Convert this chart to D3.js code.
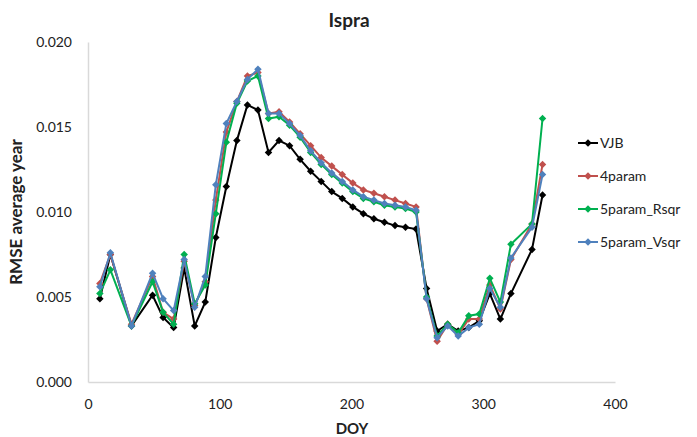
<!DOCTYPE html>
<html>
<head>
<meta charset="utf-8">
<script src="https://cdnjs.cloudflare.com/ajax/libs/d3/7.8.5/d3.min.js"></script>
<style>
  body { margin: 0; background: #fff; }
  svg text { font-family: Lato, "Open Sans", sans-serif; fill: #222; }
</style>
</head>
<body>
<div id="chart"></div>
<script>
// day of year of each composite
var doy = [9, 17, 33, 49, 57, 65, 73, 81, 89, 97, 105, 113, 121, 129, 137, 145, 153, 161, 169, 177,
           185, 193, 201, 209, 217, 225, 233, 241, 249, 257, 265, 273, 281, 289, 297, 305, 313, 321, 337, 345];

var vjb = [0.0049, 0.0075, 0.0033, 0.0051, 0.0038, 0.0032, 0.0067, 0.0033, 0.0047, 0.0085,
           0.0115, 0.0142, 0.0163, 0.0160, 0.0135, 0.0142, 0.0139, 0.0131, 0.0124, 0.0118,
           0.0112, 0.0108, 0.0103, 0.0099, 0.0096, 0.0094, 0.0092, 0.0091, 0.0090, 0.0055,
           0.0030, 0.0034, 0.0030, 0.0032, 0.0036, 0.0052, 0.0037, 0.0052, 0.0078, 0.0110];

var param4 = [0.0058, 0.0075, 0.0034, 0.0062, 0.0041, 0.0037, 0.0071, 0.0045, 0.0059, 0.0107,
              0.0147, 0.0165, 0.0180, 0.0182, 0.0158, 0.0159, 0.0153, 0.0146, 0.0139, 0.0132,
              0.0127, 0.0122, 0.0117, 0.0113, 0.0111, 0.0109, 0.0107, 0.0105, 0.0103, 0.0049,
              0.0024, 0.0034, 0.0028, 0.0037, 0.0037, 0.0057, 0.0043, 0.0072, 0.0093, 0.0128];

var param5Rsqr = [0.0052, 0.0066, 0.0033, 0.0059, 0.0041, 0.0034, 0.0075, 0.0046, 0.0057, 0.0099,
                  0.0141, 0.0164, 0.0177, 0.0180, 0.0155, 0.0156, 0.0151, 0.0144, 0.0135, 0.0128,
                  0.0122, 0.0117, 0.0112, 0.0108, 0.0106, 0.0104, 0.0103, 0.0102, 0.0100, 0.0050,
                  0.0027, 0.0034, 0.0029, 0.0039, 0.0040, 0.0061, 0.0047, 0.0081, 0.0093, 0.0155];

var param5Vsqr = [0.0056, 0.0076, 0.0033, 0.0064, 0.0049, 0.0042, 0.0072, 0.0044, 0.0062, 0.0116,
                  0.0152, 0.0165, 0.0178, 0.0184, 0.0158, 0.0158, 0.0152, 0.0145, 0.0136, 0.0129,
                  0.0123, 0.0118, 0.0113, 0.0109, 0.0107, 0.0105, 0.0104, 0.0103, 0.0101, 0.0049,
                  0.0026, 0.0033, 0.0027, 0.0032, 0.0034, 0.0055, 0.0044, 0.0073, 0.0091, 0.0122];

var seriesNames = ["VJB", "4param", "5param_Rsqr", "5param_Vsqr"];
var seriesValues = [vjb, param4, param5Rsqr, param5Vsqr];
var seriesColors = ["#000000", "#c0504d", "#00b050", "#4f81bd"];

var xTicks = [0, 100, 200, 300, 400];
var yTicks = [0, 0.005, 0.010, 0.015, 0.020];

var width = 697, height = 437;
var plot = {left: 88, right: 615, top: 42, bottom: 382};

var svg = d3.select("#chart").append("svg")
    .attr("width", width)
    .attr("height", height);

var x = d3.scaleLinear()
    .domain([0, 400])
    .range([plot.left, plot.right]);

var y = d3.scaleLinear()
    .domain([0, 0.02])
    .range([plot.bottom, plot.top]);

// axes
var yAxis = svg.append("g")
    .attr("transform", "translate(" + plot.left + ",0)")
    .call(d3.axisLeft(y).tickValues(yTicks).tickFormat(d3.format(".3f")).tickSize(0).tickPadding(16));

var xAxis = svg.append("g")
    .attr("transform", "translate(0," + plot.bottom + ")")
    .call(d3.axisBottom(x).tickValues(xTicks).tickSize(0).tickPadding(17));

svg.selectAll(".domain")
    .attr("stroke", "#d9d9d9")
    .attr("stroke-width", 1.5);

svg.selectAll(".tick text")
    .attr("font-size", 14)
    .attr("font-family", "Lato, sans-serif")
    .attr("fill", "#222");

// titles
svg.append("text")
    .attr("x", 349).attr("y", 27)
    .attr("text-anchor", "middle")
    .attr("font-size", 19).attr("font-weight", "bold")
    .text("Ispra");

svg.append("text")
    .attr("x", 352).attr("y", 434)
    .attr("text-anchor", "middle")
    .attr("font-size", 15).attr("font-weight", "bold")
    .text("DOY");

svg.append("text")
    .attr("transform", "translate(22,212) rotate(-90)")
    .attr("text-anchor", "middle")
    .attr("font-size", 17).attr("font-weight", "bold")
    .text("RMSE average year");

// series
var line = d3.line()
    .x(function(d, i) { return x(doy[i]); })
    .y(function(d) { return y(d); });

var diamond = d3.symbol().type(d3.symbolSquare).size(28);

seriesValues.forEach(function(vals, s) {
    var g = svg.append("g");
    g.append("path")
        .datum(vals)
        .attr("fill", "none")
        .attr("stroke", seriesColors[s])
        .attr("stroke-width", 2)
        .attr("d", line);
    g.selectAll("path.pt")
        .data(vals)
        .enter().append("path")
        .attr("class", "pt")
        .attr("d", diamond)
        .attr("fill", seriesColors[s])
        .attr("transform", function(d, i) {
            return "translate(" + x(doy[i]) + "," + y(d) + ") rotate(45)";
        });
});

// legend
var legend = svg.append("g")
    .attr("transform", "translate(578,143)");

var item = legend.selectAll("g")
    .data(seriesNames)
    .enter().append("g")
    .attr("transform", function(d, i) { return "translate(0," + (i * 33) + ")"; });

item.append("line")
    .attr("x1", 0).attr("x2", 20)
    .attr("stroke", function(d, i) { return seriesColors[i]; })
    .attr("stroke-width", 2);

item.append("path")
    .attr("d", diamond)
    .attr("transform", "translate(10,0) rotate(45)")
    .attr("fill", function(d, i) { return seriesColors[i]; });

item.append("text")
    .attr("x", 22).attr("y", 5)
    .attr("font-size", 14)
    .text(function(d) { return d; });
</script>
</body>
</html>
